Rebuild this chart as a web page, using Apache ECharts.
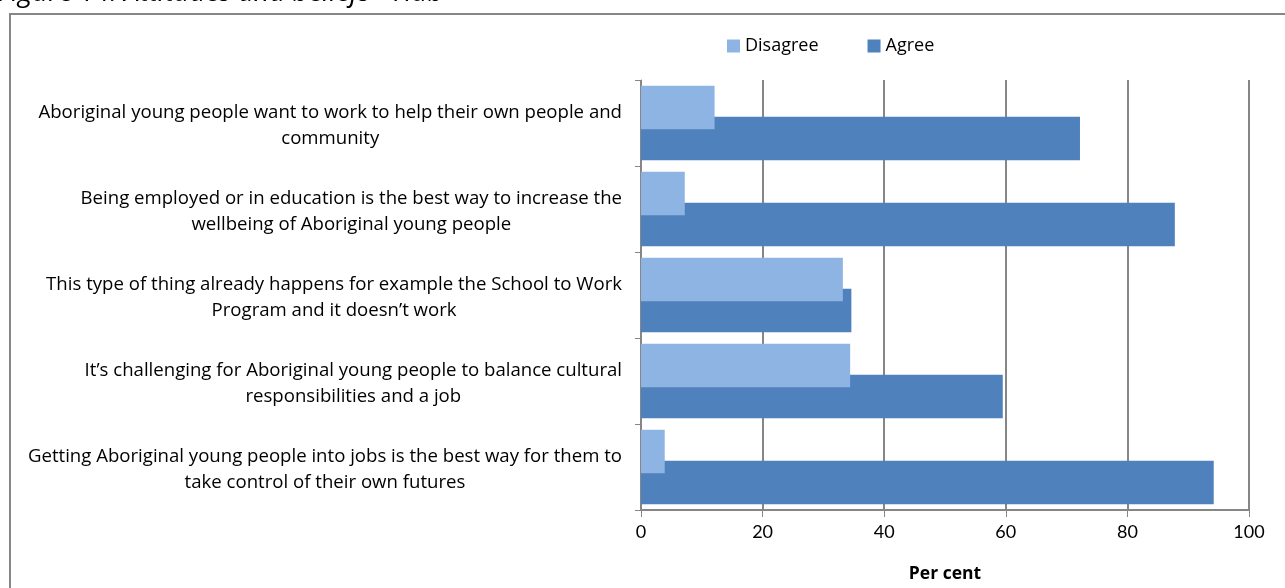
<!DOCTYPE html>
<html>
<head>
<meta charset="utf-8">
<script src="https://cdn.jsdelivr.net/npm/echarts@6/dist/echarts.min.js"></script>
<style>
  html, body { margin: 0; padding: 0; background: #fff; }
  #chart { width: 1285px; height: 588px; }
</style>
</head>
<body>
<div id="chart"></div>
<script>
// Statements, top to bottom
const statements = [
  'Aboriginal young people want to work to help their own people and\ncommunity',
  'Being employed or in education is the best way to increase the\nwellbeing of Aboriginal young people',
  'This type of thing already happens for example the School to Work\nProgram and it doesn\u2019t work',
  'It\u2019s challenging for Aboriginal young people to balance cultural\nresponsibilities and a job',
  'Getting Aboriginal young people into jobs is the best way for them to\ntake control of their own futures'
];

// Per cent of respondents
const disagree = [12.1, 7.2, 33.2, 34.4, 3.9];
const agree = [72.2, 87.8, 34.6, 59.5, 94.2];

const seriesNames = ['Disagree', 'Agree'];
const xTicks = [0, 20, 40, 60, 80, 100];

const FONT = '"Open Sans", Lato, sans-serif';
const NUM_FONT = 'Lato, "Open Sans", sans-serif';
const GRAY = '#868686';

const chart = echarts.init(document.getElementById('chart'), null, { renderer: 'canvas' });

chart.setOption({
  animation: false,
  backgroundColor: '#ffffff',
  textStyle: { fontFamily: FONT, color: '#000' },
  graphic: [
    {
      type: 'text',
      left: -2,
      top: -20,
      style: {
        text: 'Figure 14: Attitudes and beliefs - Hub',
        font: 'italic 27.5px ' + FONT,
        fill: '#000'
      }
    },
    {
      type: 'rect',
      shape: { x: 10, y: 14, width: 1300, height: 600 },
      style: { fill: 'none', stroke: GRAY, lineWidth: 2 },
      silent: true
    }
  ],
  legend: {
    data: seriesNames,
    left: 727,
    top: 37,
    padding: 0,
    itemWidth: 13,
    itemHeight: 13,
    itemGap: 49,
    icon: 'rect',
    textStyle: { fontSize: 18, fontFamily: FONT, color: '#000' }
  },
  grid: { left: 641, right: 36, top: 80, bottom: 74.5, containLabel: false },
  xAxis: {
    type: 'value',
    min: xTicks[0],
    max: xTicks[xTicks.length - 1],
    interval: xTicks[1] - xTicks[0],
    name: 'Per cent',
    nameLocation: 'middle',
    nameGap: 55,
    nameTextStyle: { fontWeight: 'bold', fontSize: 17.5, fontFamily: FONT, color: '#000' },
    axisLine: { show: true, lineStyle: { color: GRAY, width: 2 } },
    axisTick: { show: true, length: 7, lineStyle: { color: GRAY, width: 1 } },
    axisLabel: { margin: 13, fontSize: 18, fontFamily: NUM_FONT, color: '#000' },
    splitLine: { show: true, lineStyle: { color: GRAY, width: 2 } }
  },
  yAxis: {
    type: 'category',
    inverse: true,
    data: statements,
    axisLine: { show: true, lineStyle: { color: GRAY, width: 1 } },
    axisTick: { show: true, length: 6, lineStyle: { color: GRAY, width: 1 } },
    axisLabel: {
      margin: 19,
      align: 'right',
      padding: [6, 0, 0, 0],
      formatter: function (v) {
        return v.split('\n').map(function (l) { return '{c|' + l + '}'; }).join('\n');
      },
      rich: {
        c: { align: 'center', fontSize: 18.6, lineHeight: 26, fontFamily: FONT, color: '#000' }
      }
    }
  },
  series: [
    {
      name: seriesNames[0],
      type: 'bar',
      data: disagree,
      barWidth: 43.5,
      barGap: '-29%',
      z: 3,
      itemStyle: { color: '#8EB4E3' }
    },
    {
      name: seriesNames[1],
      type: 'bar',
      data: agree,
      barWidth: 43.5,
      barGap: '-29%',
      z: 2,
      itemStyle: { color: '#4F81BD' }
    }
  ]
});
</script>
</body>
</html>
